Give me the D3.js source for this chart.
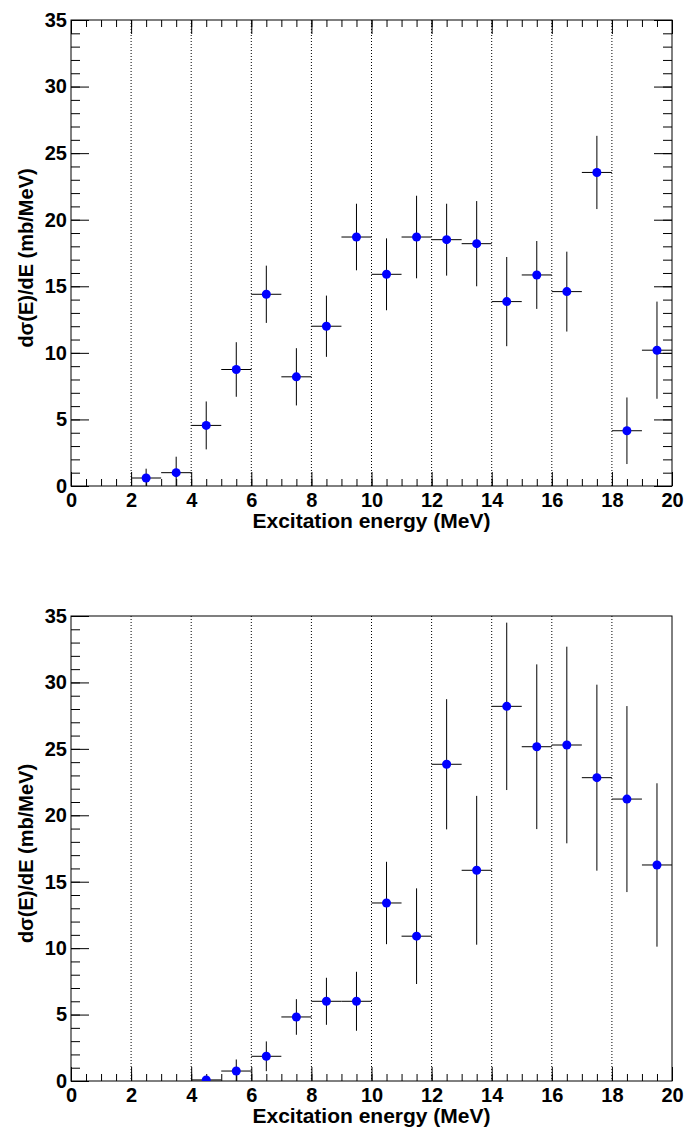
<!DOCTYPE html>
<html>
<head>
<meta charset="utf-8">
<script src="https://cdn.jsdelivr.net/npm/d3@7"></script>
<style>
  html, body { margin: 0; padding: 0; background: #fff; }
  svg { display: block; font-family: "Liberation Sans", Arial, Helvetica, sans-serif; font-weight: bold; }
</style>
</head>
<body>
<svg id="chart" width="686" height="1130"></svg>
<script>
// Differential cross section per 1 MeV excitation-energy bin (bin centres in MeV)
const topEnergies = [2.5, 3.5, 4.5, 5.5, 6.5, 7.5, 8.5, 9.5, 10.5, 11.5, 12.5, 13.5, 14.5, 15.5, 16.5, 17.5, 18.5, 19.5];
const topValues   = [0.6, 1.0, 4.55, 8.75, 14.4, 8.2, 12.0, 18.7, 15.9, 18.7, 18.5, 18.2, 13.85, 15.85, 14.6, 23.55, 4.15, 10.2];
const topErrors   = [0.7, 1.2, 1.8, 2.05, 2.15, 2.15, 2.3, 2.5, 2.7, 3.1, 2.7, 3.2, 3.35, 2.55, 3.0, 2.75, 2.5, 3.65];

const bottomEnergies = [4.5, 5.5, 6.5, 7.5, 8.5, 9.5, 10.5, 11.5, 12.5, 13.5, 14.5, 15.5, 16.5, 17.5, 18.5, 19.5];
const bottomValues   = [0.08, 0.75, 1.86, 4.82, 6.0, 6.0, 13.4, 10.9, 23.84, 15.86, 28.2, 25.16, 25.29, 22.83, 21.22, 16.26];
const bottomErrors   = [0.1, 0.87, 1.12, 1.34, 1.77, 2.22, 3.1, 3.6, 4.9, 5.6, 6.3, 6.2, 7.4, 7.0, 7.0, 6.15];

const binHalfWidth = 0.5;

const xTickLabels = [0, 2, 4, 6, 8, 10, 12, 14, 16, 18, 20];
const xMinorTicks = d3.range(0, 20.001, 0.5);
const yTickLabels = [0, 5, 10, 15, 20, 25, 30, 35];
const yMinorTicks = d3.range(0, 35.001, 1);
const gridEnergies = [2, 4, 6, 8, 10, 12, 14, 16, 18];

const xTitle = "Excitation energy (MeV)";
const yTitle = "dσ(E)/dE (mb/MeV)";

const svg = d3.select("#chart");

function drawPanel(frame, energies, values, errors, mirrorTicks) {
  const x = d3.scaleLinear().domain([0, 20]).range([frame.left, frame.right]);
  const y = d3.scaleLinear().domain([0, 35]).range([frame.bottom, frame.top]);
  const g = svg.append("g");

  const clipId = "clip" + Math.round(frame.top);
  g.append("clipPath").attr("id", clipId)
    .append("rect")
    .attr("x", frame.left).attr("y", frame.top)
    .attr("width", frame.right - frame.left).attr("height", frame.bottom - frame.top);

  // vertical dotted grid
  g.append("g").selectAll("line").data(gridEnergies).join("line")
    .attr("x1", d => x(d)).attr("x2", d => x(d))
    .attr("y1", frame.top).attr("y2", frame.bottom)
    .attr("stroke", "#000").attr("stroke-width", 1)
    .attr("stroke-dasharray", "1,2");

  const fontSize = 20;
  const styleAxis = (sel) => {
    sel.select(".domain").remove();
    sel.selectAll(".tick line").attr("stroke", "#000").attr("stroke-width", 1);
    sel.selectAll("text").attr("font-size", fontSize).attr("font-weight", "bold")
      .attr("font-family", "'Liberation Sans', Arial, sans-serif").attr("fill", "#000");
  };

  // bottom axis: minor + major ticks with labels
  g.append("g").attr("transform", `translate(0,${frame.bottom})`)
    .call(d3.axisBottom(x).tickValues(xMinorTicks).tickSize(-7).tickFormat(""))
    .call(styleAxis);
  g.append("g").attr("transform", `translate(0,${frame.bottom})`)
    .call(d3.axisBottom(x).tickValues(xTickLabels).tickSize(-14).tickPadding(7).tickFormat(d3.format("d")))
    .call(styleAxis);

  // left axis
  g.append("g").attr("transform", `translate(${frame.left},0)`)
    .call(d3.axisLeft(y).tickValues(yMinorTicks).tickSize(-9).tickFormat(""))
    .call(styleAxis);
  g.append("g").attr("transform", `translate(${frame.left},0)`)
    .call(d3.axisLeft(y).tickValues(yTickLabels).tickSize(-18).tickPadding(4).tickFormat(d3.format("d")))
    .call(styleAxis);

  if (mirrorTicks) {
    g.append("g").attr("transform", `translate(0,${frame.top})`)
      .call(d3.axisTop(x).tickValues(xMinorTicks).tickSize(-7).tickFormat(""))
      .call(styleAxis);
    g.append("g").attr("transform", `translate(0,${frame.top})`)
      .call(d3.axisTop(x).tickValues(xTickLabels).tickSize(-14).tickFormat(""))
      .call(styleAxis);
    g.append("g").attr("transform", `translate(${frame.right},0)`)
      .call(d3.axisRight(y).tickValues(yMinorTicks).tickSize(-9).tickFormat(""))
      .call(styleAxis);
    g.append("g").attr("transform", `translate(${frame.right},0)`)
      .call(d3.axisRight(y).tickValues(yTickLabels).tickSize(-18).tickFormat(""))
      .call(styleAxis);
  }

  // frame
  g.append("rect")
    .attr("x", frame.left).attr("y", frame.top)
    .attr("width", frame.right - frame.left).attr("height", frame.bottom - frame.top)
    .attr("fill", "none").attr("stroke", "#000").attr("stroke-width", 1);

  // data: error bars and markers
  const pts = energies.map((e, i) => ({ e, v: values[i], err: errors[i] }));
  const data = g.append("g").attr("clip-path", `url(#${clipId})`);
  data.selectAll("line.h").data(pts).join("line").attr("class", "h")
    .attr("x1", d => x(d.e - binHalfWidth)).attr("x2", d => x(d.e + binHalfWidth))
    .attr("y1", d => y(d.v)).attr("y2", d => y(d.v))
    .attr("stroke", "#000").attr("stroke-width", 1);
  data.selectAll("line.v").data(pts).join("line").attr("class", "v")
    .attr("x1", d => x(d.e)).attr("x2", d => x(d.e))
    .attr("y1", d => y(d.v - d.err)).attr("y2", d => y(d.v + d.err))
    .attr("stroke", "#000").attr("stroke-width", 1);
  data.selectAll("circle").data(pts).join("circle")
    .attr("cx", d => x(d.e)).attr("cy", d => y(d.v)).attr("r", 4.5)
    .attr("fill", "#0000ff");

  // axis titles
  g.append("text")
    .attr("x", (frame.left + frame.right) / 2).attr("y", frame.bottom + 42)
    .attr("text-anchor", "middle").attr("font-size", 21)
    .text(xTitle);
  g.append("text")
    .attr("transform", `translate(33,${(frame.top + frame.bottom) / 2 + 5}) rotate(-90)`)
    .attr("text-anchor", "middle").attr("font-size", 20)
    .text(yTitle);
}

drawPanel({ left: 71, right: 672, top: 20, bottom: 486 }, topEnergies, topValues, topErrors, true);
drawPanel({ left: 71, right: 672, top: 616, bottom: 1081 }, bottomEnergies, bottomValues, bottomErrors, false);
</script>
</body>
</html>
